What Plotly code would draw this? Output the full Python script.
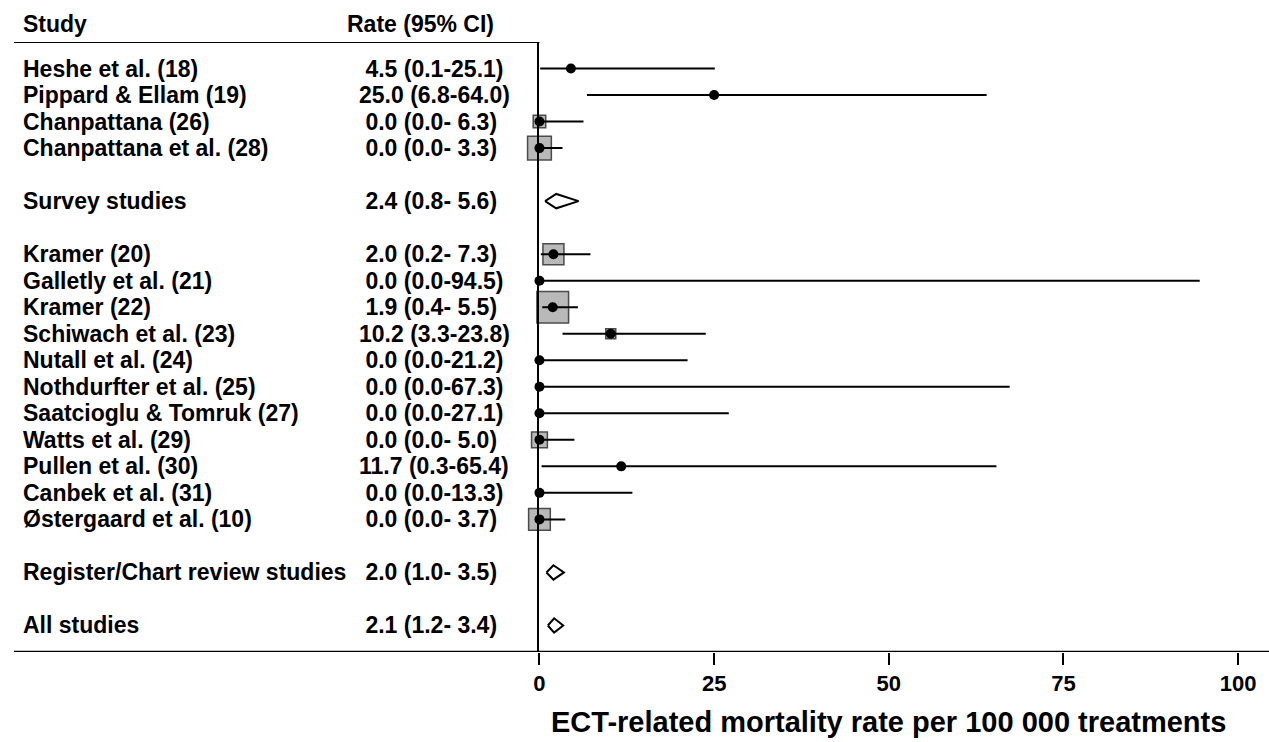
import math
import plotly.graph_objects as go

# ---------------- data ----------------
study_names = [
    "Heshe et al. (18)", "Pippard & Ellam (19)", "Chanpattana (26)", "Chanpattana et al. (28)",
    "Kramer (20)", "Galletly et al. (21)", "Kramer (22)", "Schiwach et al. (23)",
    "Nutall et al. (24)", "Nothdurfter et al. (25)", "Saatcioglu & Tomruk (27)", "Watts et al. (29)",
    "Pullen et al. (30)", "Canbek et al. (31)", "Østergaard et al. (10)",
]
study_group = ["Survey"] * 4 + ["Register"] * 11
study_rate = [4.5, 25.0, 0.0, 0.0, 2.0, 0.0, 1.9, 10.2, 0.0, 0.0, 0.0, 0.0, 11.7, 0.0, 0.0]
study_lo = [0.1, 6.8, 0.0, 0.0, 0.2, 0.0, 0.4, 3.3, 0.0, 0.0, 0.0, 0.0, 0.3, 0.0, 0.0]
study_hi = [25.1, 64.0, 6.3, 3.3, 7.3, 94.5, 5.5, 23.8, 21.2, 67.3, 27.1, 5.0, 65.4, 13.3, 3.7]
study_weight = [0.4, 0.4, 5.0, 18.0, 14.0, 0.4, 32.0, 3.2, 0.4, 0.4, 0.4, 8.0, 0.4, 0.4, 15.0]

groups = ["Survey", "Register"]
summary_names = ["Survey studies", "Register/Chart review studies", "All studies"]
summary_rate = [2.4, 2.0, 2.1]
summary_lo = [0.8, 1.0, 1.2]
summary_hi = [5.6, 3.5, 3.4]

x_ticks = [0, 25, 50, 75, 100]
x_title = "ECT-related mortality rate per 100 000 treatments"
col_headers = ["Study", "Rate (95% CI)"]

# ---------------- row layout ----------------
study_rows = [None] * len(study_names)
summary_rows = []
r = 0
for g in groups:
    for i, sg in enumerate(study_group):
        if sg == g:
            study_rows[i] = r
            r += 1
    r += 1
    summary_rows.append(r)
    r += 2
summary_rows.append(r)
n_rows = r + 1

W, H = 1269, 742
TOP, BOTTOM = 42, 652
X0_PX = 536
PX_PER_UNIT = (1238 - 536) / 100.0
x_max = (W - X0_PX) / PX_PER_UNIT

FONT = "Liberation Sans, Arial, sans-serif"


def fmt(e, lo, hi):
    return f"{e:4.1f} ({lo:.1f}-{hi:4.1f})".replace(" ", "\u00a0")


fig = go.Figure()

# weight squares
fig.add_trace(go.Scatter(
    x=study_rate, y=study_rows, mode="markers",
    marker=dict(symbol="square", size=[5.6 * math.sqrt(w) for w in study_weight],
                color="#9c9c9c", line=dict(color="black", width=1.5)),
    hoverinfo="skip", showlegend=False, cliponaxis=False,
))

# CI lines
cx, cy = [], []
for lo, hi, row in zip(study_lo, study_hi, study_rows):
    cx += [lo, hi, None]
    cy += [row, row, None]
fig.add_trace(go.Scatter(x=cx, y=cy, mode="lines", line=dict(color="black", width=2),
                         hoverinfo="skip", showlegend=False, cliponaxis=False))

# point estimates
fig.add_trace(go.Scatter(
    x=study_rate, y=study_rows, mode="markers",
    marker=dict(symbol="circle", size=10, color="black"),
    hoverinfo="skip", showlegend=False, cliponaxis=False,
))

# summary diamonds
h = 0.27
for e, lo, hi, row in zip(summary_rate, summary_lo, summary_hi, summary_rows):
    fig.add_trace(go.Scatter(
        x=[lo, e, hi, e, lo], y=[row, row - h, row, row + h, row],
        mode="lines", fill="toself", fillcolor="white",
        line=dict(color="black", width=2), hoverinfo="skip", showlegend=False,
    ))

annotations = []
lab_font = dict(family=FONT, size=23, color="black", weight="bold")
NAME_X = 15 / W
RATE_X = 353 / W
for name, e, lo, hi, row in zip(study_names, study_rate, study_lo, study_hi, study_rows):
    annotations.append(dict(x=NAME_X, xref="paper", y=row, yref="y", text=name,
                            showarrow=False, xanchor="left", yanchor="middle", font=lab_font))
    annotations.append(dict(x=RATE_X, xref="paper", y=row, yref="y", text=fmt(e, lo, hi),
                            showarrow=False, xanchor="left", yanchor="middle", font=lab_font))
for name, e, lo, hi, row in zip(summary_names, summary_rate, summary_lo, summary_hi, summary_rows):
    annotations.append(dict(x=NAME_X, xref="paper", y=row, yref="y", text=name,
                            showarrow=False, xanchor="left", yanchor="middle", font=lab_font))
    annotations.append(dict(x=RATE_X, xref="paper", y=row, yref="y", text=fmt(e, lo, hi),
                            showarrow=False, xanchor="left", yanchor="middle", font=lab_font))

plot_h = BOTTOM - TOP
hdr_y = (BOTTOM - 24) / plot_h
annotations.append(dict(x=NAME_X, xref="paper", y=hdr_y, yref="paper", text=col_headers[0],
                        showarrow=False, xanchor="left", yanchor="middle", font=lab_font))
annotations.append(dict(x=341 / W, xref="paper", y=hdr_y, yref="paper", text=col_headers[1],
                        showarrow=False, xanchor="left", yanchor="middle", font=lab_font))
annotations.append(dict(x=50, xref="x", y=(BOTTOM - 722) / plot_h, yref="paper", text=x_title,
                        showarrow=False, xanchor="center", yanchor="middle",
                        font=dict(family=FONT, size=29, color="black", weight="bold")))

shapes = [
    dict(type="line", xref="paper", yref="y", x0=8 / W, x1=X0_PX / W, y0=-1, y1=-1,
         line=dict(color="black", width=2)),
    dict(type="line", xref="paper", yref="y", x0=8 / W, x1=1, y0=n_rows, y1=n_rows,
         line=dict(color="black", width=2.5)),
]

fig.update_layout(
    width=W, height=H,
    margin=dict(l=0, r=0, t=TOP, b=H - BOTTOM, pad=0),
    plot_bgcolor="white", paper_bgcolor="white",
    showlegend=False,
    xaxis=dict(domain=[X0_PX / W, 1], range=[0, x_max], showgrid=False, zeroline=False,
               showline=False, tickmode="array", tickvals=x_ticks,
               ticks="outside", ticklen=12, tickwidth=2, tickcolor="black",
               tickfont=dict(family=FONT, size=22, color="black", weight="bold")),
    yaxis=dict(range=[n_rows, -1], showgrid=False, zeroline=False, showticklabels=False,
               showline=True, linecolor="black", linewidth=2, ticks=""),
    annotations=annotations, shapes=shapes,
)

fig.write_html("out.html", config={"displayModeBar": False},
               post_script="document.body.style.margin='0';")
